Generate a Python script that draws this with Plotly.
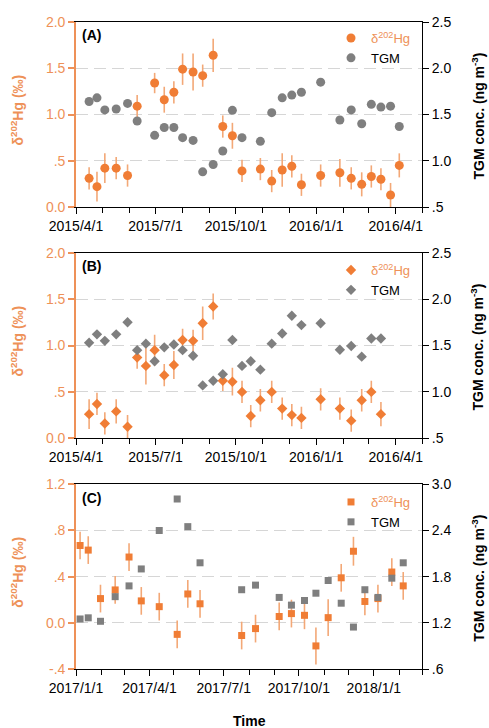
import plotly.graph_objects as go

# ---------------- data ----------------
# Panel A
dates_a = ["2015-04-16", "2015-04-25", "2015-05-04", "2015-05-17", "2015-05-30", "2015-06-10",
           "2015-06-30", "2015-07-11", "2015-07-22", "2015-08-01", "2015-08-13", "2015-08-24",
           "2015-09-05", "2015-09-16", "2015-09-27", "2015-10-08", "2015-10-29", "2015-11-11",
           "2015-11-23", "2015-12-04", "2015-12-15", "2016-01-06", "2016-01-28", "2016-02-10",
           "2016-02-22", "2016-03-04", "2016-03-15", "2016-03-26", "2016-04-05"]
d202_a = [0.31, 0.22, 0.42, 0.42, 0.34, 1.09, 1.34, 1.16, 1.24, 1.49, 1.46, 1.42, 1.64, 0.87, 0.77,
          0.39, 0.41, 0.28, 0.40, 0.44, 0.24, 0.34, 0.37, 0.31, 0.245, 0.33, 0.30, 0.13, 0.45]
err_a = [0.12, 0.16, 0.16, 0.12, 0.12, 0.12, 0.11, 0.14, 0.12, 0.17, 0.20, 0.12, 0.18, 0.12, 0.14,
         0.12, 0.12, 0.12, 0.18, 0.12, 0.12, 0.12, 0.15, 0.12, 0.13, 0.12, 0.12, 0.13, 0.13]
tgm_a = [1.64, 1.68, 1.55, 1.56, 1.62, 1.43, 1.275, 1.36, 1.36, 1.25, 1.22, 0.88, 0.96, 1.105, 1.545,
         1.25, 1.21, 1.52, 1.68, 1.71, 1.74, 1.85, 1.44, 1.55, 1.40, 1.61, 1.58, 1.59, 1.37]

# Panel B
dates_b = ["2015-04-16", "2015-04-25", "2015-05-04", "2015-05-17", "2015-05-30", "2015-06-10",
           "2015-06-20", "2015-06-30", "2015-07-11", "2015-07-22", "2015-08-01", "2015-08-13",
           "2015-08-24", "2015-09-05", "2015-09-16", "2015-09-27", "2015-10-08", "2015-10-18",
           "2015-10-29", "2015-11-11", "2015-11-23", "2015-12-04", "2015-12-15", "2016-01-06",
           "2016-01-28", "2016-02-10", "2016-02-22", "2016-03-04", "2016-03-15"]
d202_b = [0.26, 0.37, 0.16, 0.29, 0.125, 0.87, 0.78, 0.95, 0.68, 0.79, 1.06, 1.05, 1.24, 1.42, 0.62,
          0.61, 0.50, 0.24, 0.41, 0.50, 0.32, 0.25, 0.22, 0.42, 0.32, 0.19, 0.41, 0.50, 0.26]
err_b = [0.16, 0.12, 0.12, 0.13, 0.125, 0.12, 0.20, 0.165, 0.12, 0.15, 0.12, 0.12, 0.18, 0.14, 0.11,
         0.15, 0.12, 0.12, 0.12, 0.12, 0.12, 0.12, 0.12, 0.12, 0.12, 0.12, 0.12, 0.12, 0.13]
tgm_b = [1.53, 1.62, 1.55, 1.62, 1.75, 1.45, 1.52, 1.33, 1.48, 1.51, 1.45, 1.39, 1.07, 1.12, 1.19,
         1.56, 1.28, 1.33, 1.24, 1.52, 1.63, 1.82, 1.72, 1.74, 1.455, 1.495, 1.38, 1.575, 1.575]

# Panel C
dates_c = ["2017-01-06", "2017-01-16", "2017-01-31", "2017-02-18", "2017-03-07", "2017-03-22",
           "2017-04-13", "2017-05-05", "2017-05-18", "2017-06-02", "2017-07-23", "2017-08-09",
           "2017-09-07", "2017-09-22", "2017-10-08", "2017-10-22", "2017-11-06", "2017-11-22",
           "2017-12-07", "2017-12-21", "2018-01-06", "2018-01-23", "2018-02-06"]
d202_c = [0.67, 0.63, 0.21, 0.285, 0.57, 0.19, 0.14, -0.10, 0.25, 0.165, -0.11, -0.05, 0.055, 0.08,
          0.065, -0.20, 0.045, 0.39, 0.62, 0.185, 0.21, 0.44, 0.32]
err_c = [0.12, 0.12, 0.12, 0.12, 0.12, 0.12, 0.12, 0.12, 0.12, 0.12, 0.12, 0.12, 0.12, 0.12,
         0.12, 0.16, 0.16, 0.12, 0.125, 0.12, 0.12, 0.12, 0.12]
tgm_c = [1.25, 1.265, 1.22, 1.54, 1.68, 1.90, 2.40, 2.81, 2.45, 1.98, 1.63, 1.69, 1.53, 1.43, 1.49,
         1.585, 1.75, 1.455, 1.145, 1.63, 1.53, 1.78, 1.98]

# tick labels
xt_ab = ["2015-04-01", "2015-07-01", "2015-10-01", "2016-01-01", "2016-04-01"]
xl_ab = ["2015/4/1", "2015/7/1", "2015/10/1", "2016/1/1", "2016/4/1"]
xt_c = ["2017-01-01", "2017-04-01", "2017-07-01", "2017-10-01", "2018-01-01"]
xl_c = ["2017/1/1", "2017/4/1", "2017/7/1", "2017/10/1", "2018/1/1"]
yl_ab_v = [0, 0.5, 1.0, 1.5, 2.0]
yl_ab_t = ["0.0", ".5", "1.0", "1.5", "2.0"]
yr_ab_v = [0.5, 1.0, 1.5, 2.0, 2.5]
yr_ab_t = [".5", "1.0", "1.5", "2.0", "2.5"]
yl_c_v = [-0.4, 0.0, 0.4, 0.8, 1.2]
yl_c_t = ["-.4", "0.0", ".4", ".8", "1.2"]
yr_c_v = [0.6, 1.2, 1.8, 2.4, 3.0]
yr_c_t = [".6", "1.2", "1.8", "2.4", "3.0"]

# ---------------- style ----------------
FONT = "Liberation Sans, Arial, sans-serif"
ORANGE = "#F07D35"
ORANGE_T = "#EE9158"
ERR = "#F3A877"
GRAY = "#7F7F7F"
GRID = "#D6D6D6"

fig = go.Figure()

panels = [
    ("x", "y", "y2", dates_a, d202_a, err_a, tgm_a, "circle", 9, "legend"),
    ("x2", "y3", "y4", dates_b, d202_b, err_b, tgm_b, "diamond", 8, "legend2"),
    ("x3", "y5", "y6", dates_c, d202_c, err_c, tgm_c, "square", 7, "legend3"),
]

for xa, yl, yr, dts, d2, er, tg, sym, ms, lg in panels:
    fig.add_trace(go.Scatter(
        x=dts, y=tg, mode="markers", xaxis=xa, yaxis=yr, showlegend=False,
        marker=dict(symbol=sym, size=ms, color=GRAY, line=dict(width=0))))
    fig.add_trace(go.Scatter(
        x=dts, y=d2, mode="markers", xaxis=xa, yaxis=yl, showlegend=False,
        error_y=dict(type="data", array=er, visible=True, color=ERR, thickness=1.6, width=0),
        marker=dict(symbol=sym, size=ms, color=ORANGE, line=dict(width=0))))
    # legend entries
    fig.add_trace(go.Scatter(
        x=[None], y=[None], mode="markers", xaxis=xa, yaxis=yl, legend=lg,
        name='<span style="color:%s">δ<sup>202</sup>Hg</span>' % ORANGE_T,
        marker=dict(symbol=sym, size=ms, color=ORANGE)))
    fig.add_trace(go.Scatter(
        x=[None], y=[None], mode="markers", xaxis=xa, yaxis=yl, legend=lg,
        name="TGM", marker=dict(symbol=sym, size=ms, color=GRAY)))

# ---------------- layout ----------------
W, H = 489, 728
L, R, T, B = 76, 67, 22, 59
ph = H - T - B


def ydom(top_px, bot_px):
    return [(H - B - bot_px) / ph, (H - B - top_px) / ph]


dom_a = ydom(22, 207)
dom_b = ydom(252.7, 438.3)
dom_c = ydom(484.3, 669)


def xaxis(rng, tv, tt, y_anchor, tick0):
    return dict(
        domain=[0, 1], anchor=y_anchor, type="date", range=rng,
        tickvals=tv, ticktext=tt, ticks="outside", ticklen=6, tickwidth=1, tickcolor="black",
        showline=True, linecolor="black", linewidth=1, mirror=True, showgrid=False,
        zeroline=False, tickfont=dict(family=FONT, size=14, color="black"),
        minor=dict(ticks="outside", ticklen=5, tickcolor="black", dtick="M1", tick0=tick0,
                   showgrid=False),
    )


def yleft(dom, rng, tv, tt, x_anchor):
    return dict(
        domain=dom, anchor=x_anchor, range=rng, tickvals=tv, ticktext=tt,
        ticks="outside", ticklen=6, tickwidth=1.5, tickcolor=ORANGE_T,
        showline=True, linecolor=ORANGE_T, linewidth=1.6,
        showgrid=True, gridcolor=GRID, gridwidth=1.2, griddash="12px,6px",
        zeroline=False, tickfont=dict(family=FONT, size=14, color=ORANGE_T),
    )


def yright(over, rng, tv, tt, x_anchor):
    return dict(
        overlaying=over, side="right", anchor=x_anchor, range=rng, tickvals=tv, ticktext=tt,
        ticks="outside", ticklen=6, tickwidth=1, tickcolor="black",
        showline=True, linecolor="black", linewidth=1, showgrid=False, zeroline=False,
        tickfont=dict(family=FONT, size=14, color="black"),
    )


def leg(top_px):
    return dict(
        x=(331 - L) / (W - L - R), xanchor="left",
        y=(H - B - top_px) / ph, yanchor="top",
        bgcolor="rgba(0,0,0,0)", borderwidth=0,
        font=dict(family=FONT, size=13, color="black"),
        itemwidth=30, tracegroupgap=0,
    )


annotations = []
for lab, dom in [("(A)", dom_a), ("(B)", dom_b), ("(C)", dom_c)]:
    annotations.append(dict(
        xref="paper", yref="paper", x=(80 - L) / (W - L - R), xanchor="left",
        y=dom[1] - 13.5 / ph, yanchor="middle", showarrow=False,
        text="<b>%s</b>" % lab, font=dict(family=FONT, size=14, color="black")))
    mid = (dom[0] + dom[1]) / 2
    annotations.append(dict(
        xref="paper", yref="paper", x=(17 - L) / (W - L - R), xanchor="center",
        y=mid + 4 / ph, yanchor="middle", showarrow=False, textangle=-90,
        text="<b>δ<sup>202</sup>Hg (‰)</b>", font=dict(family=FONT, size=14, color=ORANGE_T)))
    annotations.append(dict(
        xref="paper", yref="paper", x=(478 - L) / (W - L - R), xanchor="center",
        y=mid - 2 / ph, yanchor="middle", showarrow=False, textangle=-90,
        text="<b>TGM conc. (ng m<sup>-3</sup>)</b>", font=dict(family=FONT, size=14, color="black")))

annotations.append(dict(
    xref="paper", yref="paper", x=0.5, xanchor="center",
    y=-(721 - (H - B)) / ph, yanchor="middle", showarrow=False,
    text="<b>Time</b>", font=dict(family=FONT, size=14, color="black")))

fig.update_layout(
    width=W, height=H, margin=dict(l=L, r=R, t=T, b=B),
    paper_bgcolor="white", plot_bgcolor="white",
    font=dict(family=FONT, size=14, color="black"),
    xaxis=xaxis(["2015-04-01", "2016-05-01"], xt_ab, xl_ab, "y", "2015-04-01"),
    xaxis2=xaxis(["2015-04-01", "2016-05-01"], xt_ab, xl_ab, "y3", "2015-04-01"),
    xaxis3=xaxis(["2017-01-01", "2018-03-01"], xt_c, xl_c, "y5", "2017-01-01"),
    yaxis=yleft(dom_a, [0, 2], yl_ab_v, yl_ab_t, "x"),
    yaxis2=yright("y", [0.5, 2.5], yr_ab_v, yr_ab_t, "x"),
    yaxis3=yleft(dom_b, [0, 2], yl_ab_v, yl_ab_t, "x2"),
    yaxis4=yright("y3", [0.5, 2.5], yr_ab_v, yr_ab_t, "x2"),
    yaxis5=yleft(dom_c, [-0.4, 1.2], yl_c_v, yl_c_t, "x3"),
    yaxis6=yright("y5", [0.6, 3.0], yr_c_v, yr_c_t, "x3"),
    legend=leg(23),
    legend2=leg(255),
    legend3=leg(487),
    annotations=annotations,
)

fig.write_html("out.html")
